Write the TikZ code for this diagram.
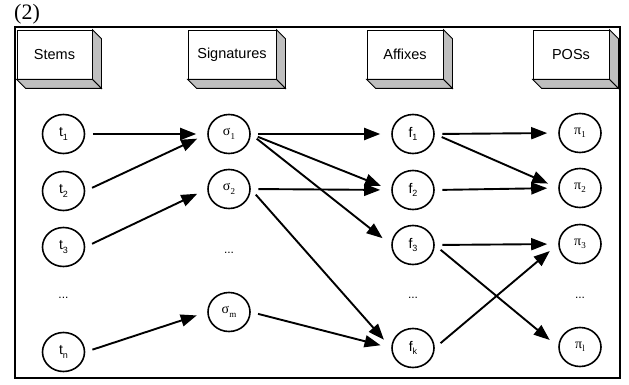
\documentclass[tikz,border=0pt]{standalone}
\usepackage{fontspec}
\setmainfont{Liberation Sans}
\newfontfamily\serifgr{Liberation Serif}
\usetikzlibrary{shapes.geometric,arrows.meta}
\newcommand\lbl[2]{#1\raisebox{-3.5pt}{\fontsize{9}{10}\selectfont #2}}
\tikzset{
  hdr/.style={draw, line width=0.8pt, fill=white, minimum width=75pt, minimum height=49pt, inner sep=0pt, font=\fontsize{14.5}{16}\selectfont},
  sidefc/.style={draw, line width=0.8pt, fill=black!25},
  nd/.style={ellipse, draw, line width=1.6pt, minimum width=42pt, minimum height=39pt, inner sep=0pt, font=\fontsize{14}{16}\selectfont},
  dotsn/.style={inner sep=0pt, font=\fontsize{12}{13}\selectfont},
  arr/.style={line width=1.9pt, -{Triangle[length=16pt,width=12pt]}, shorten <=7.5pt, shorten >=11pt}
}
\begin{document}
\begin{tikzpicture}[x=1pt,y=-1pt]
\useasboundingbox (0,0) rectangle (629,385);
\node[anchor=base west, inner sep=0pt, font=\serifgr\fontsize{22}{24}\selectfont] (title) at (14,19.5) {(2)};
\draw[line width=2.2pt] (15,27) rectangle (620,378);
% headers
\foreach \nm/\cx/\w/\txt in {hS/54.5/75/Stems, hG/232/88/Signatures, hA/405/76/Affixes, hP/571/76/POSs}{
  \node[hdr, minimum width=\w pt] (\nm) at (\cx,54.5) {\txt};
  \draw[sidefc] (\nm.north east) -- ++(9,9) -- ([shift={(9,9)}]\nm.south east) -- (\nm.south east) -- cycle;
  \draw[sidefc] (\nm.south west) -- ++(9,9) -- ([shift={(9,9)}]\nm.south east) -- (\nm.south east) -- cycle;
}
% stems
\node[nd] (t1) at (63.5,134) {\lbl{t}{1}};
\node[nd] (t2) at (63.5,191) {\lbl{t}{2}};
\node[nd] (t3) at (63.5,247) {\lbl{t}{3}};
\node[dotsn] (td) at (63.5,298) {...};
\node[nd] (tn) at (63.5,352) {\lbl{t}{n}};
% signatures
\node[nd] (s1) at (229,134) {\lbl{\serifgr σ}{1}};
\node[nd] (s2) at (229,189) {\lbl{\serifgr σ}{2}};
\node[dotsn] (sd) at (229,253) {...};
\node[nd] (sm) at (229,312) {\lbl{\serifgr σ}{m}};
% affixes
\node[nd] (f1) at (413,134) {\lbl{f}{1}};
\node[nd] (f2) at (413,190) {\lbl{f}{2}};
\node[nd] (f3) at (413,245) {\lbl{f}{3}};
\node[dotsn] (fd) at (413,298) {...};
\node[nd] (fk) at (413,348) {\lbl{f}{k}};
% POSs
\node[nd] (p1) at (580,133) {\lbl{\serifgr π}{1}};
\node[nd] (p2) at (580,188) {\lbl{\serifgr π}{2}};
\node[nd] (p3) at (580,244) {\lbl{\serifgr π}{3}};
\node[dotsn] (pd) at (580,298) {...};
\node[nd] (pl) at (580,347) {\lbl{\serifgr π}{l}};
% arrows
\draw[arr] (t1.east) -- (s1.west);
\draw[arr] (t2.east) -- (s1.west);
\draw[arr] (t3.east) -- (s2.west);
\draw[arr] (tn.east) -- (sm.west);
\draw[arr] (s1.east) -- (f1.west);
\draw[arr] (s1.east) -- (f2.west);
\draw[arr] (s1.east) -- (f3.west);
\draw[arr] (s2.east) -- (f2.west);
\draw[arr] (s2.east) -- (fk.west);
\draw[arr] (sm.east) -- (fk.west);
\draw[arr] (f1.east) -- (p1.west);
\draw[arr] (f1.east) -- (p2.west);
\draw[arr] (f2.east) -- (p2.west);
\draw[arr] (f3.east) -- (p3.west);
\draw[arr] (f3.east) -- (pl.west);
\draw[arr] (fk.east) -- (p3.west);
\end{tikzpicture}
\end{document}
